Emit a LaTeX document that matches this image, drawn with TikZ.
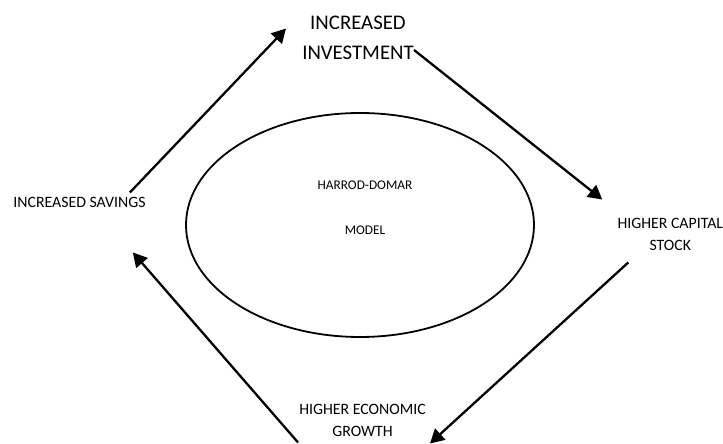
\documentclass[tikz,border=0pt]{standalone}
\usepackage{fontspec}
\setmainfont{Carlito}
\usetikzlibrary{arrows.meta, positioning, calc, shapes.geometric}

\begin{document}
\begin{tikzpicture}[x=1pt, y=-1pt, >={Triangle[length=14pt,width=15pt]}, semithick]
	\tikzstyle{txt}=[inner sep=0pt, align=center, font=\fontsize{15.8}{22}\selectfont]
	\tikzstyle{flow}=[->, line width=2.3pt]
	\useasboundingbox (0,0) rectangle (723,444);

	\node[txt, font=\fontsize{20.8}{30}\selectfont] (invest) at (358,38) {INCREASED\\INVESTMENT};
	\node[txt] (savings) at (79.5,202) {INCREASED SAVINGS};
	\node[txt] (capital) at (670.3,234) {HIGHER CAPITAL\\STOCK};
	\node[txt] (growth) at (362.5,420) {HIGHER ECONOMIC\\GROWTH};

	\node[draw, ellipse, line width=1.8pt, minimum width=348pt, minimum height=224pt, inner sep=0pt] (model) at (360,225) {};
	\node[txt, font=\fontsize{13.3}{45}\selectfont] (modeltext) at (365,207.5) {HARROD-DOMAR\\MODEL};

	\draw[flow] ($(savings.north east)+(-16,-4)$) -- ($(invest.north west)+(-16,12.7)$);
	\draw[flow] ($(invest.east)+(0,12)$) -- ($(capital.north west)+(-15,-18)$);
	\draw[flow] ($(capital.south west)+(11,12)$) -- ($(growth.south east)+(4,7)$);
	\draw[flow] ($(growth.south west)+(-1,6)$) -- ($(savings.south east)+(-13,45)$);
\end{tikzpicture}
\end{document}
